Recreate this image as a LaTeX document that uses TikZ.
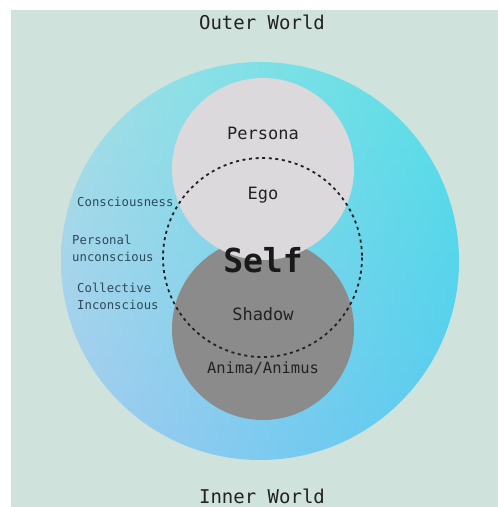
\documentclass[tikz,border=0pt]{standalone}
\usepackage{fontspec}
\setmonofont{DejaVu Sans Mono}
\definecolor{bgc}{HTML}{CFE3DC}
\definecolor{lightg}{HTML}{DBD9DC}
\definecolor{darkg}{HTML}{8B8B8B}
\definecolor{txt}{HTML}{222222}
\definecolor{sidetxt}{HTML}{2D4A5A}
\pgfdeclarefunctionalshading{bigcircle}{\pgfpoint{-50bp}{-50bp}}{\pgfpoint{50bp}{50bp}}{}{%
  25 add 50 div exch 25 add 50 div exch
  exch 0.31 mul 0.65 exch sub
  exch dup 0.09 mul 0.79 add
  exch 0.04 mul 0.94 exch sub
}
\tikzset{
  maintext/.style={font=\ttfamily\fontsize{17}{20}\selectfont, text=txt, inner sep=0pt},
  worldtext/.style={font=\ttfamily\fontsize{19}{22}\selectfont, text=txt, inner sep=0pt},
  sidetext/.style={font=\ttfamily\fontsize{12.3}{17}\selectfont, text=sidetxt, inner sep=0pt, anchor=west, align=left},
  selftext/.style={font=\ttfamily\bfseries\fontsize{33}{36}\selectfont, text=black!90, inner sep=0pt},
  dashcircle/.style={draw=txt, line width=1.8pt, dash pattern=on 3pt off 3.6pt}
}
\begin{document}
\begin{tikzpicture}[x=1pt,y=-1pt]
\useasboundingbox (0,0) rectangle (498,507);
\fill[white] (0,0) rectangle (498,507);
\fill[bgc] (11,10) rectangle (498,507);
% big circle
\shade[shading=bigcircle] (260,261) circle[radius=199];
% shadow and persona circles
\fill[darkg] (263,329) circle[radius=91];
\fill[lightg] (263,169) circle[radius=91];
% dashed self circle
\draw[dashcircle] (262.5,257.5) circle[radius=99.5];
% texts
\node[worldtext] (outer) at (262,22) {Outer World};
\node[worldtext] (inner) at (262,496) {Inner World};
\node[maintext] (persona) at (263,133) {Persona};
\node[maintext] (ego) at (263,195) {Ego};
\node[selftext] (self) at (263,260) {Self};
\node[maintext] (shadow) at (263,314) {Shadow};
\node[maintext, font=\ttfamily\fontsize{15.5}{18}\selectfont] (anima) at (263,368) {Anima/Animus};
\node[sidetext] (cons) at (77,202) {Consciousness};
\node[sidetext] (pers) at (72,248) {Personal\\unconscious};
\node[sidetext] (coll) at (77,296) {Collective\\Inconscious};
\end{tikzpicture}
\end{document}
